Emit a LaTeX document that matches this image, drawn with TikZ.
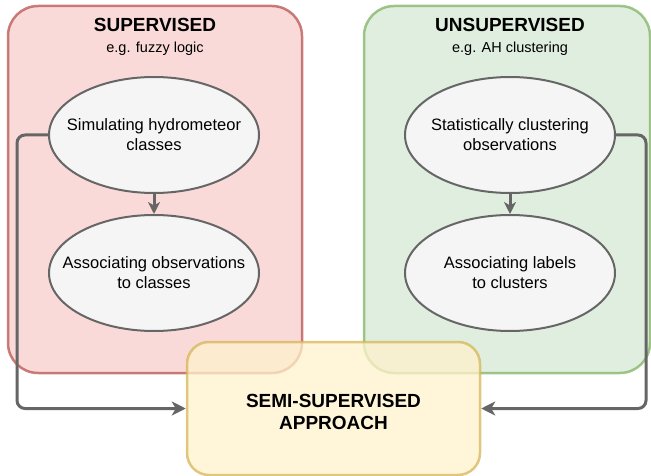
\documentclass[tikz,border=0pt]{standalone}
\usepackage{fontspec}
\setmainfont{Liberation Sans}
\usetikzlibrary{arrows.meta,positioning,shapes.geometric}
\definecolor{supfill}{HTML}{F8CECC}
\definecolor{supline}{HTML}{B85450}
\definecolor{unsfill}{HTML}{D5E8D4}
\definecolor{unsline}{HTML}{82B366}
\definecolor{semifill}{HTML}{FFF2CC}
\definecolor{semiline}{HTML}{D6B656}
\definecolor{taskfill}{HTML}{F5F5F5}
\definecolor{linegray}{HTML}{666666}
\tikzset{
  group/.style={draw, rounded corners=30pt, line width=2.5pt, opacity=0.75, inner sep=0pt},
  supgroup/.style={group, fill=supfill, draw=supline, minimum width=294pt, minimum height=367pt},
  unsgroup/.style={group, fill=unsfill, draw=unsline, minimum width=286pt, minimum height=367pt},
  semigroup/.style={group, rounded corners=22pt, fill=semifill, draw=semiline, minimum width=293pt, minimum height=133pt},
  task/.style={ellipse, draw=linegray, fill=taskfill, line width=2pt, minimum width=210pt, minimum height=116pt, inner xsep=-20pt, inner ysep=0pt, align=center, font=\fontsize{16.5}{20}\selectfont},
  title/.style={align=center, font=\fontsize{19}{22}\selectfont\bfseries},
  subtitle/.style={font=\fontsize{14.5}{17}\selectfont},
  arrow/.style={-{Stealth[length=14pt,width=14pt,inset=4pt]}, line width=3pt, draw=linegray, rounded corners=8pt},
  shortarrow/.style={arrow, -{Stealth[length=12pt,width=12pt,inset=3.5pt]}}
}

\begin{document}
\begin{tikzpicture}[x=1pt, y=-1pt]
  \useasboundingbox (0,0) rectangle (651,476);

  % Supervised group
  \node[supgroup] (sup) at (155,189.5) {};
  \node[title] (suptitle) at (155,25) {SUPERVISED};
  \node[subtitle] (supsub) at (155,49) {e.g. fuzzy logic};
  \node[task] (sim) at (154,135) {Simulating hydrometeor\\classes};
  \node[task, below=20pt of sim] (assobs) {Associating observations\\to classes};

  % Unsupervised group
  \node[unsgroup] (uns) at (507,189.5) {};
  \node[title] (unstitle) at (510,25) {UNSUPERVISED};
  \node[subtitle] (unssub) at (510,49) {e.g. AH clustering};
  \node[task] (clus) at (510,135) {Statistically clustering\\observations};
  \node[task, below=20pt of clus] (asslab) {Associating labels\\to clusters};

  % arrows
  \draw[shortarrow] (sim) -- (assobs);
  \draw[shortarrow] (clus) -- (asslab);

  % Semi-supervised approach
  \node[semigroup] (semi) at (333.5,408.5) {};
  \node[title] (semititle) at ([yshift=-3pt]semi.center) {SEMI-SUPERVISED\\APPROACH};

  \draw[arrow] (sim.west) -- ++(-31,0) |- (semi.west);
  \draw[arrow] (clus.east) -- ++(30,0) |- (semi.east);
\end{tikzpicture}
\end{document}
